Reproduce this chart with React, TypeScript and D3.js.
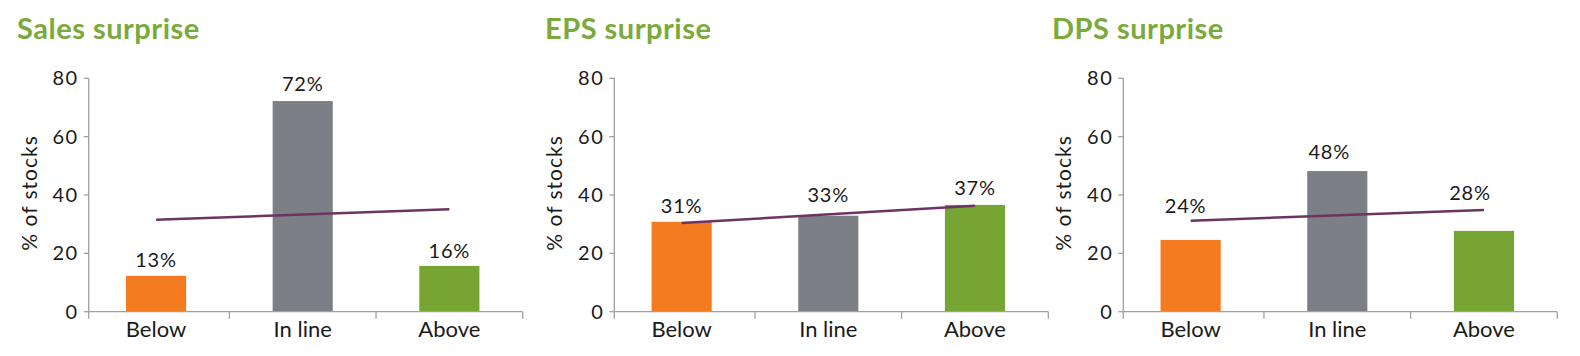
import React from "react";
import * as d3 from "d3";

// ---- data ----
const categories = ["Below", "In line", "Above"];
const panelTitles = ["Sales surprise", "EPS surprise", "DPS surprise"];
const salesValues = [12.3, 72.2, 15.7];
const epsValues = [30.8, 32.9, 36.6];
const dpsValues = [24.6, 48.2, 27.7];
const salesLabels = ["13%", "72%", "16%"];
const epsLabels = ["31%", "33%", "37%"];
const dpsLabels = ["24%", "48%", "28%"];
// trend line values at first and last category
const salesTrend = [31.5, 35.1];
const epsTrend = [30.4, 36.3];
const dpsTrend = [31.2, 34.9];
const yTicks = [0, 20, 40, 60, 80];
const yMax = 80;
const yTitle = "% of stocks";

// ---- layout ----
const W = 1580;
const H = 356;
const panelLeft = [88.7, 614.3, 1123.3];
const titleX = [17, 545, 1052];
const axisWidth = 434;
const yTop = 78.3;
const yBottom = 311.7;
const labelLift = [
  [9, 10, 8],
  [9, 14, 10],
  [27, 12, 31],
];
const labelDx = [
  [0, 0, 0],
  [0, 0, 0],
  [-5, -8, -14],
];

const colors = ["#f47b20", "#7c7f86", "#76a534"];
const trendColor = "#6c3463";
const axisColor = "#a0a0a0";
const titleColor = "#7aa93c";
const textColor = "#1a1a1a";
const font = "Lato, 'Open Sans', sans-serif";

const panels = [
  { title: panelTitles[0], values: salesValues, labels: salesLabels, trend: salesTrend },
  { title: panelTitles[1], values: epsValues, labels: epsLabels, trend: epsTrend },
  { title: panelTitles[2], values: dpsValues, labels: dpsLabels, trend: dpsTrend },
];

const y = d3.scaleLinear().domain([0, yMax]).range([yBottom, yTop]);

function Panel({ idx }: { idx: number }) {
  const p = panels[idx];
  const x0 = panelLeft[idx];
  const bandOuter = d3
    .scaleBand<string>()
    .domain(categories)
    .range([x0 - 6, x0 + axisWidth])
    .padding(0);
  const x = d3
    .scaleBand<string>()
    .domain(categories)
    .range([x0 - 6, x0 + axisWidth])
    .paddingInner(0.59)
    .paddingOuter(0.295);
  const cx = (c: string) => (x(c) as number) + x.bandwidth() / 2;
  const boundaries = categories
    .slice(1)
    .map((c) => bandOuter(c) as number)
    .concat([x0 + axisWidth]);

  const line = d3
    .line<number>()
    .x((_, i) => cx(categories[i === 0 ? 0 : categories.length - 1]))
    .y((d) => y(d));

  return (
    <g>
      <text
        x={titleX[idx]}
        y={39}
        fill={titleColor}
        fontFamily={font}
        fontWeight={700}
        fontSize={29}
        letterSpacing={0.5}
      >
        {p.title}
      </text>
      {/* y axis title */}
      <text
        transform={`translate(${x0 - 52},${193}) rotate(-90)`}
        textAnchor="middle"
        fontFamily={font}
        fontSize={21}
        letterSpacing={1}
        fill={textColor}
      >
        {yTitle}
      </text>
      {/* bars */}
      {p.values.map((v, i) => (
        <rect
          key={i}
          x={x(categories[i])}
          y={y(v)}
          width={x.bandwidth()}
          height={y(0) - y(v)}
          fill={colors[i]}
        />
      ))}
      {/* y axis */}
      <line x1={x0} x2={x0} y1={yTop} y2={yBottom} stroke={axisColor} strokeWidth={1.3} />
      {yTicks.map((t) => (
        <g key={t}>
          <line x1={x0 - 5} x2={x0} y1={y(t)} y2={y(t)} stroke={axisColor} strokeWidth={1.3} />
          <text
            x={x0 - 10}
            y={y(t)}
            dy="0.35em"
            textAnchor="end"
            fontFamily={font}
            fontSize={20}
            letterSpacing={1.5}
            fill={textColor}
          >
            {t}
          </text>
        </g>
      ))}
      {/* x axis */}
      <line x1={x0} x2={x0 + axisWidth} y1={yBottom} y2={yBottom} stroke={axisColor} strokeWidth={1.3} />
      <line x1={x0} x2={x0} y1={yBottom} y2={yBottom + 7} stroke={axisColor} strokeWidth={1.3} />
      {boundaries.map((b, i) => (
        <line key={i} x1={b} x2={b} y1={yBottom} y2={yBottom + 7} stroke={axisColor} strokeWidth={1.3} />
      ))}
      {categories.map((c) => (
        <text
          key={c}
          x={cx(c)}
          y={yBottom + 25}
          textAnchor="middle"
          fontFamily={font}
          fontSize={22}
          fill={textColor}
        >
          {c}
        </text>
      ))}
      {/* trend line */}
      <path d={line(p.trend) || ""} stroke={trendColor} strokeWidth={2.5} fill="none" />
      {/* value labels */}
      {p.values.map((v, i) => (
        <text
          key={i}
          x={cx(categories[i]) + labelDx[idx][i]}
          y={y(v) - labelLift[idx][i]}
          textAnchor="middle"
          fontFamily={font}
          fontSize={20}
          letterSpacing={0.8}
          fill={textColor}
        >
          {p.labels[i]}
        </text>
      ))}
    </g>
  );
}

export default function App() {
  return (
    <svg
      width={W}
      height={H}
      style={{ position: "absolute", left: 0, top: 0, background: "#fff" }}
    >
      <rect width={W} height={H} fill="#fff" />
      {[0, 1, 2].map((i) => (
        <Panel key={i} idx={i} />
      ))}
    </svg>
  );
}
